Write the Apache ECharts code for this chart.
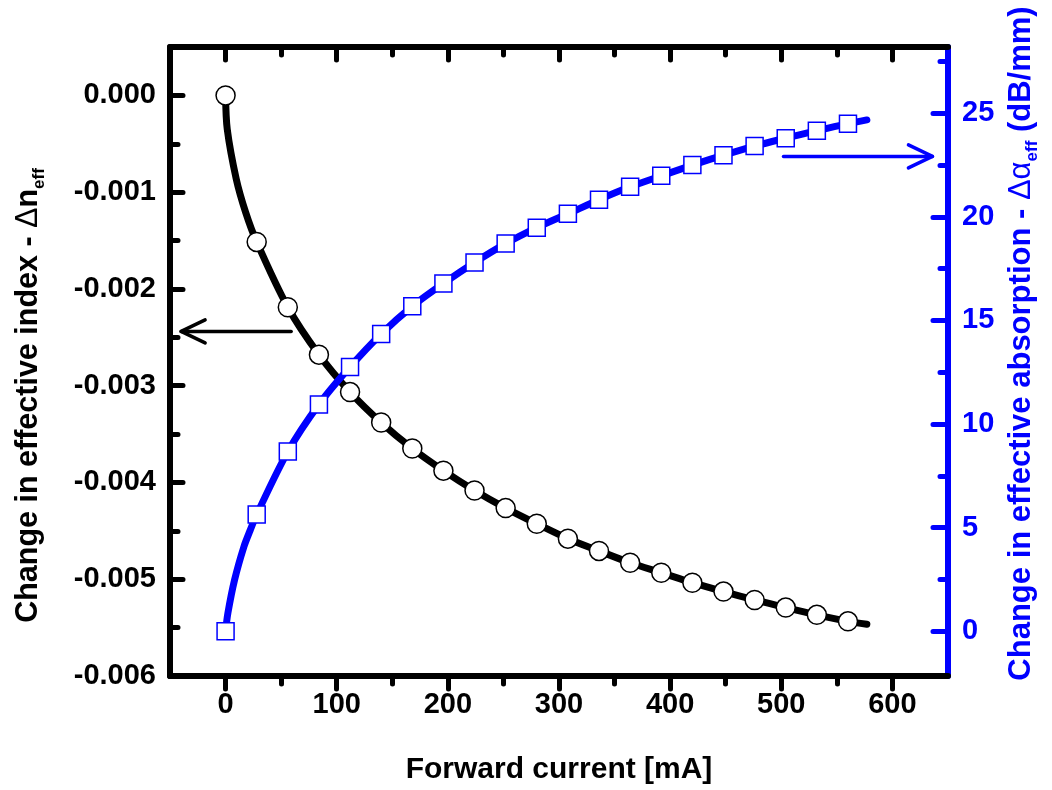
<!DOCTYPE html>
<html>
<head>
<meta charset="utf-8">
<script src="https://cdn.jsdelivr.net/npm/echarts@6/dist/echarts.min.js"></script>
<style>
  html, body { margin: 0; padding: 0; background: #fff; }
  #chart { width: 1052px; height: 790px; }
</style>
</head>
<body>
<div id="chart"></div>
<script>
// ---------- data ----------
const current = [0, 28, 56, 84, 112, 140, 168, 196, 224, 252, 280, 308, 336, 364, 392, 420, 448, 476, 504, 532, 560];
const deltaNeff = [0, -0.001514, -0.002189, -0.002679, -0.003066, -0.003381, -0.003649, -0.003878, -0.004083, -0.004265,
  -0.004427, -0.004581, -0.004707, -0.004830, -0.004933, -0.005036, -0.005128, -0.005214, -0.005293, -0.005368, -0.005435];
const deltaAlpha = [0, 5.63, 8.67, 10.95, 12.76, 14.35, 15.69, 16.79, 17.80, 18.71,
  19.48, 20.15, 20.83, 21.45, 21.98, 22.50, 22.98, 23.42, 23.80, 24.16, 24.50];

// fitted curves
const nFitCurrent = [0, 1.5, 9.6, 18, 28, 56, 84, 112, 140, 168, 196, 224, 252, 280, 308, 336, 364, 392, 420, 448, 476, 504, 532, 560, 577];
const nFit = [0, -0.000349, -0.000863, -0.001206, -0.001514, -0.002189, -0.002679, -0.003066, -0.003381, -0.003649, -0.003878,
  -0.004083, -0.004265, -0.004427, -0.004581, -0.004707, -0.004830, -0.004933, -0.005036, -0.005128, -0.005214, -0.005293,
  -0.005368, -0.005435, -0.005465];
const aFitCurrent = [0, 2.1, 8.1, 16.5, 22.2, 28, 56, 84, 112, 140, 168, 196, 224, 252, 280, 308, 336, 364, 392, 420, 448, 476, 504, 532, 560, 577];
const aFit = [0, 0.88, 2.48, 4.08, 4.88, 5.63, 8.67, 10.95, 12.76, 14.35, 15.69, 16.79, 17.80, 18.71, 19.48, 20.15, 20.83,
  21.45, 21.98, 22.50, 22.98, 23.42, 23.80, 24.16, 24.50, 24.68];

// tick values
const xMajor = [0, 100, 200, 300, 400, 500, 600];
const xMinor = [50, 150, 250, 350, 450, 550];
const nMajor = [-0.006, -0.005, -0.004, -0.003, -0.002, -0.001, 0];
const nMinor = [-0.0055, -0.0045, -0.0035, -0.0025, -0.0015, -0.0005];
const aMajor = [0, 5, 10, 15, 20, 25];
const aMinor = [2.5, 7.5, 12.5, 17.5, 22.5, 27.5];

// annotation arrows [from, to] in data units
const nArrow = [[59, -0.002439], [-40, -0.002439]];
const aArrow = [[502, 22.92], [636, 22.92]];

// ---------- styling ----------
const FONT = '"Liberation Sans", Arial, Helvetica, sans-serif';
const BLACK = '#000000';
const BLUE = '#0000ff';
const X_MIN = -50, X_MAX = 650;
const N_MIN = -0.006, N_MAX = 0.0005;
const A_MIN = -2.16, A_MAX = 28.2;

function xAxisDef(pos, values, len, inside, showLine, labels) {
  return {
    type: 'value', position: pos, min: X_MIN, max: X_MAX,
    axisLine: { show: showLine, onZero: false, lineStyle: { color: BLACK, width: 6 } },
    axisTick: { show: true, inside: inside, length: len, customValues: values,
      lineStyle: { color: BLACK, width: 5, cap: 'round' } },
    axisLabel: labels ? { show: true, customValues: xMajor, margin: 14, color: BLACK,
      fontSize: 29, fontWeight: 'bold', fontFamily: FONT } : { show: false },
    splitLine: { show: false }
  };
}
function yAxisDef(pos, min, max, values, len, color, showLine, labels, fmt) {
  return {
    type: 'value', position: pos, min: min, max: max,
    axisLine: { show: showLine, onZero: false, lineStyle: { color: color, width: 6 } },
    axisTick: { show: true, inside: true, length: len, customValues: values,
      lineStyle: { color: color, width: 5, cap: 'round' } },
    axisLabel: labels ? { show: true, customValues: labels, margin: 14, color: color,
      fontSize: 29, fontWeight: 'bold', fontFamily: FONT, formatter: fmt } : { show: false },
    splitLine: { show: false }
  };
}

const xAxes = [
  xAxisDef('bottom', xMajor, 13, false, true, true),
  xAxisDef('bottom', xMinor, 8, false, false, false),
  xAxisDef('top', xMajor, 13, true, true, false),
  xAxisDef('top', xMinor, 8, true, false, false)
];
xAxes[0].name = 'Forward current [mA]';
xAxes[0].nameLocation = 'middle';
xAxes[0].nameGap = 79;
xAxes[0].nameTextStyle = { color: BLACK, fontSize: 30, fontWeight: 'bold', fontFamily: FONT };

const yAxes = [
  yAxisDef('left', N_MIN, N_MAX, nMajor, 13, BLACK, true, nMajor, v => v.toFixed(3)),
  yAxisDef('left', N_MIN, N_MAX, nMinor, 8, BLACK, false, null),
  yAxisDef('right', A_MIN, A_MAX, aMajor, 15, BLUE, true, aMajor, v => String(Math.round(v))),
  yAxisDef('right', A_MIN, A_MAX, aMinor, 8, BLUE, false, null)
];
yAxes[0].name = '{t|Change in effective index - }{g|Δ}{t|n}{s|eff}';
yAxes[0].nameLocation = 'middle';
yAxes[0].nameRotate = 90;
yAxes[0].nameGap = 122;
yAxes[0].nameTextStyle = {
  padding: [0, 68, 0, 0],
  rich: {
    t: { color: BLACK, fontSize: 30.5, fontWeight: 'bold', fontFamily: FONT },
    g: { color: BLACK, fontSize: 30.5, fontWeight: 'normal', fontFamily: FONT },
    s: { color: BLACK, fontSize: 17, fontWeight: 'bold', fontFamily: FONT, padding: [22, 0, 0, 0] }
  }
};
yAxes[2].name = '{t|Change in effective absorption - }{g|Δα}{s|eff}{t| (dB/mm)}';
yAxes[2].nameLocation = 'middle';
yAxes[2].nameRotate = 90;
yAxes[2].nameGap = 54;
yAxes[2].nameTextStyle = {
  padding: [0, 0, 0, 36],
  rich: {
    t: { color: BLUE, fontSize: 31, fontWeight: 'bold', fontFamily: FONT },
    g: { color: BLUE, fontSize: 31, fontWeight: 'normal', fontFamily: FONT },
    s: { color: BLUE, fontSize: 17, fontWeight: 'bold', fontFamily: FONT, padding: [22, 0, 0, 0] }
  }
};

const zip = (a, b) => a.map((v, i) => [v, b[i]]);

const option = {
  backgroundColor: '#ffffff',
  animation: false,
  grid: { left: 170, right: 104, top: 47, bottom: 110, containLabel: false },
  xAxis: xAxes,
  yAxis: yAxes,
  series: [
    { name: 'nFit', type: 'line', xAxisIndex: 0, yAxisIndex: 0, data: zip(nFitCurrent, nFit),
      showSymbol: false, smooth: 0.3,
      lineStyle: { color: BLACK, width: 7, cap: 'round', join: 'round' }, z: 2 },
    { name: 'aFit', type: 'line', xAxisIndex: 0, yAxisIndex: 2, data: zip(aFitCurrent, aFit),
      showSymbol: false, smooth: 0.3,
      lineStyle: { color: BLUE, width: 7, cap: 'round', join: 'round' }, z: 3 },
    { name: 'Δn_eff', type: 'scatter', xAxisIndex: 0, yAxisIndex: 0, data: zip(current, deltaNeff),
      symbol: 'circle', symbolSize: 19,
      itemStyle: { color: '#ffffff', borderColor: BLACK, borderWidth: 1.5, opacity: 1 }, z: 4 },
    { name: 'Δα_eff', type: 'scatter', xAxisIndex: 0, yAxisIndex: 2, data: zip(current, deltaAlpha),
      symbol: 'rect', symbolSize: 17,
      itemStyle: { color: '#ffffff', borderColor: BLUE, borderWidth: 1.5, opacity: 1 }, z: 5 }
  ]
};

const chart = echarts.init(document.getElementById('chart'), null, { renderer: 'canvas' });
chart.setOption(option);

function arrow(points, seriesIndex, color) {
  const p0 = chart.convertToPixel({ seriesIndex: seriesIndex }, points[0]);
  const p1 = chart.convertToPixel({ seriesIndex: seriesIndex }, points[1]);
  const dx = p1[0] - p0[0], dy = p1[1] - p0[1];
  const L = Math.sqrt(dx * dx + dy * dy);
  const ux = dx / L, uy = dy / L;
  const back = 24, half = 11.5;
  const bx = p1[0] - ux * back, by = p1[1] - uy * back;
  const a1 = [bx - uy * half, by + ux * half];
  const a2 = [bx + uy * half, by - ux * half];
  const st = { stroke: color, lineWidth: 3.5, lineCap: 'round', lineJoin: 'round', fill: null };
  return [
    { type: 'polyline', shape: { points: [p0, p1] }, style: st, z: 10 },
    { type: 'polyline', shape: { points: [a1, p1, a2] }, style: st, z: 10 }
  ];
}
chart.setOption({ graphic: [].concat(arrow(nArrow, 2, BLACK), arrow(aArrow, 3, BLUE)) });
</script>
</body>
</html>
